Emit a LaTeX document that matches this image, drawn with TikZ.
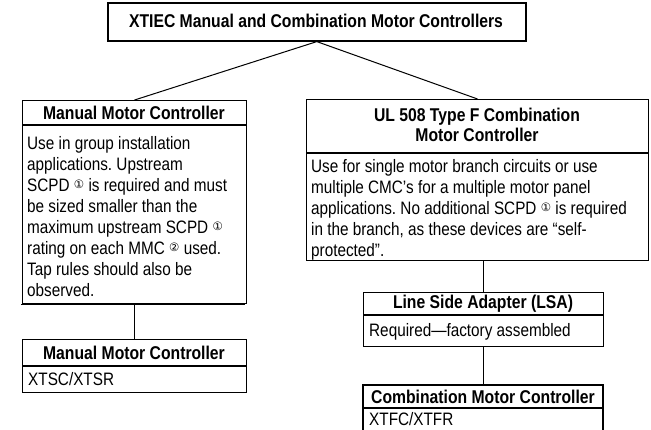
\documentclass[tikz,border=0pt]{standalone}
\usepackage{fontspec}
\setmainfont{Liberation Sans}[FakeStretch=0.85]
\newfontfamily\symfont{DejaVu Sans}
\newcommand{\cnum}[1]{\raisebox{0.3ex}{\symfont\fontsize{11.5}{11.5}\selectfont #1}}
\frenchspacing
\begin{document}
\frenchspacing
\begin{tikzpicture}[x=1pt,y=-1pt,
  box/.style={draw, line width=1.1pt, inner sep=0pt, anchor=north west},
  ttl/.style={font=\bfseries\fontsize{18.5}{20}\selectfont, inner sep=0pt, align=center},
  body/.style={font=\fontsize{18}{21}\selectfont\frenchspacing, inner sep=0pt, align=left, anchor=north west},
  sep/.style={line width=1.1pt},
  conn/.style={line width=1.8pt},
  slant/.style={line width=1pt}]
\useasboundingbox (0,0) rectangle (651,429);
% top
\node[box, line width=1.6pt, minimum width=418pt, minimum height=38pt] (top) at (107,2) {};
\node[ttl] (toptxt) at (316,21) {XTIEC Manual and Combination Motor Controllers};
% left box
\node[box, minimum width=224pt, minimum height=203pt] (lm) at (22,100) {};
\node[ttl] (lmt) at (134,112.5) {Manual Motor Controller};
\coordinate (lmsw) at (22,125);
\coordinate (lmse) at (246,125);
\draw[sep] (lmsw) -- (lmse);
\coordinate (lmbw) at (21,304.6);
\coordinate (lmbe) at (245,304.6);
\draw[sep, line width=0.9pt] (lmbw) -- (lmbe);
\node[body] (lmb) at (27,136) {Use in group installation\\applications. Upstream\\SCPD \cnum{①} is required and must\\be sized smaller than the\\maximum upstream SCPD \cnum{①}\\rating on each MMC \cnum{②} used.\\Tap rules should also be\\observed.};
% lower left box
\node[box, minimum width=224pt, minimum height=53pt] (ll) at (22,339) {};
\node[ttl] (llt) at (134,352.5) {Manual Motor Controller};
\coordinate (llsw) at (22,366);
\coordinate (llse) at (246,366);
\draw[sep] (llsw) -- (llse);
\node[body] (llb) at (28,372.5) {XTSC/XTSR};
% right box
\node[box, minimum width=342pt, minimum height=161pt] (rm) at (306,99) {};
\node[ttl] (rmt) at (477,125) {UL 508 Type F Combination\\Motor Controller};
\coordinate (rmsw) at (306,153);
\coordinate (rmse) at (648,153);
\draw[sep] (rmsw) -- (rmse);
\node[body] (rmb) at (311,159.5) {Use for single motor branch circuits or use\\multiple CMC’s for a multiple motor panel\\applications. No additional SCPD \cnum{①} is required\\in the branch, as these devices are “self-\\protected”.};
% LSA
\node[box, minimum width=240pt, minimum height=54pt] (lsa) at (363,292) {};
\node[ttl] (lsat) at (483,303.5) {Line Side Adapter (LSA)};
\coordinate (lsasw) at (363,315);
\coordinate (lsase) at (603,315);
\draw[sep] (lsasw) -- (lsase);
\node[body] (lsab) at (369,323.5) {Required—factory assembled};
% CMC (open at the bottom edge of the picture)
\coordinate (cmcnw) at (363,385);
\coordinate (cmcne) at (603,385);
\coordinate (cmcsw) at (363,432);
\coordinate (cmcse) at (603,432);
\draw[sep] (cmcsw) -- (cmcnw) -- (cmcne) -- (cmcse);
\node[ttl] (cmct) at (483,396.5) {Combination Motor Controller};
\coordinate (cmcmw) at (363,408);
\coordinate (cmcme) at (603,408);
\draw[sep] (cmcmw) -- (cmcme);
\node[body] (cmcb) at (369,412) {XTFC/XTFR};
% connectors
\draw[slant] (lm.north) -- (top.south) -- (rm.north);
\draw[conn] (lm.south) -- (ll.north);
\draw[conn] (rm.south -| lsa.north) -- (lsa.north);
\draw[conn] (lsa.south) -- (cmcnw -| lsa.south);
\end{tikzpicture}
\end{document}
